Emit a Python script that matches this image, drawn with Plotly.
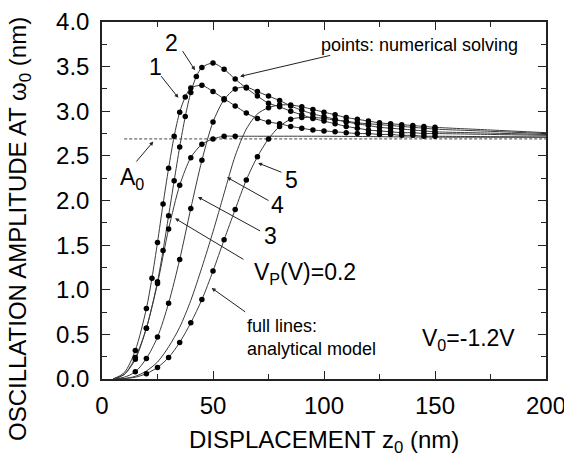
import plotly.graph_objects as go

# ---------------- data ----------------
A0 = 2.69
A0_X = [10, 200]

# V_P = 1
c1_x = [15, 20, 22.5, 25, 27.5, 30, 32.5, 35, 37.5, 40, 45, 50, 55, 60, 65, 70, 75, 80, 85, 90,
        95, 100, 105, 110, 115, 120, 125, 130, 135, 140, 145, 150]
c1_y = [0.32, 0.79, 1.13, 1.53, 1.96, 2.36, 2.72, 2.99, 3.16, 3.26, 3.29, 3.22, 3.14, 3.06, 2.98, 2.92,
        2.88, 2.86, 2.83, 2.81, 2.79, 2.78, 2.77, 2.76, 2.75, 2.75, 2.74, 2.74, 2.73, 2.73, 2.72, 2.72]
# V_P = 2
c2_x = [15, 20, 25, 27.5, 30, 32.5, 35, 37.5, 40, 42.5, 45, 50, 55, 60, 65, 70, 75, 80, 85, 90,
        95, 100, 105, 110, 115, 120, 125, 130, 135, 140, 145, 150]
c2_y = [0.24, 0.57, 1.09, 1.44, 1.83, 2.22, 2.60, 2.94, 3.21, 3.39, 3.49, 3.54, 3.47, 3.36, 3.26, 3.17,
        3.09, 3.05, 3.00, 2.96, 2.92, 2.89, 2.86, 2.83, 2.81, 2.79, 2.78, 2.77, 2.76, 2.76, 2.75, 2.75]
# V_P = 0.2
c02_x = [15, 20, 25, 30, 35, 40, 45, 50, 55, 60]
c02_y = [0.22, 0.57, 1.07, 1.68, 2.17, 2.48, 2.63, 2.69, 2.72, 2.72]
c02_tail_x = [70, 100, 150, 200]
c02_tail_y = [2.72, 2.72, 2.71, 2.71]
# V_P = 3
c3_x = [15, 20, 25, 30, 35, 40, 45, 50, 55, 60, 65, 70, 75, 80, 85, 90, 95, 100, 105, 110,
        115, 120, 125, 130, 135, 140, 145, 150]
c3_y = [0.08, 0.23, 0.47, 0.85, 1.34, 1.91, 2.45, 2.88, 3.13, 3.25, 3.27, 3.22, 3.17, 3.12, 3.06, 3.01,
        2.97, 2.94, 2.91, 2.88, 2.86, 2.84, 2.82, 2.81, 2.80, 2.79, 2.78, 2.77]
# V_P = 4 (rising part: line only)
c4_line_x = [5, 10, 15, 20, 25, 30, 35, 40, 45, 50, 55, 60, 65, 70]
c4_line_y = [0.0, 0.005, 0.03, 0.09, 0.19, 0.36, 0.58, 0.88, 1.25, 1.65, 2.08, 2.50, 2.80, 2.97]
c4_x = [75, 80, 85, 90, 95, 100, 105, 110, 115, 120, 125, 130, 135, 140, 145, 150]
c4_y = [3.04, 3.07, 3.07, 3.05, 3.02, 2.99, 2.96, 2.93, 2.91, 2.89, 2.87, 2.86, 2.85, 2.84, 2.83, 2.82]
# V_P = 5
c5_x = [20, 25, 30, 35, 40, 45, 50, 55, 60, 65, 70, 75, 80, 85, 90, 95, 100, 105, 110,
        115, 120, 125, 130, 135, 140, 145, 150]
c5_y = [0.06, 0.13, 0.24, 0.41, 0.63, 0.89, 1.21, 1.56, 1.90, 2.23, 2.49, 2.69, 2.83, 2.91, 2.93, 2.93,
        2.92, 2.90, 2.89, 2.87, 2.86, 2.85, 2.84, 2.83, 2.82, 2.81, 2.80]

# line-only starts / ends of the analytical curves
HEAD_X = [5, 10]
c1_head = [0.0, 0.07]
c2_head = [0.0, 0.05]
c02_head = [0.0, 0.05]
c3_head = [0.0, 0.02]
c5_head_x = [5, 10, 15]
c5_head = [0.0, 0.005, 0.02]
TAIL_X = [175, 200]
c1_tail = [2.715, 2.71]
c2_tail = [2.74, 2.73]
c3_tail = [2.755, 2.74]
c4_tail = [2.79, 2.76]
c5_tail = [2.775, 2.75]

X_TICKS = [0, 50, 100, 150, 200]
Y_TICKS = [0.0, 0.5, 1.0, 1.5, 2.0, 2.5, 3.0, 3.5, 4.0]

# ---------------- figure ----------------
FONT = "Liberation Sans, Arial, sans-serif"
LINE_C = "#3a3a3a"
fig = go.Figure()

lines = [
    (HEAD_X + c1_x + TAIL_X, c1_head + c1_y + c1_tail),
    (HEAD_X + c2_x + TAIL_X, c2_head + c2_y + c2_tail),
    (HEAD_X + c02_x + c02_tail_x, c02_head + c02_y + c02_tail_y),
    (HEAD_X + c3_x + TAIL_X, c3_head + c3_y + c3_tail),
    (c4_line_x + c4_x + TAIL_X, c4_line_y + c4_y + c4_tail),
    (c5_head_x + c5_x + TAIL_X, c5_head + c5_y + c5_tail),
]
for lx, ly in lines:
    fig.add_trace(go.Scatter(x=lx, y=ly, mode="lines",
                             line=dict(color=LINE_C, width=1, shape="spline", smoothing=0.8),
                             hoverinfo="skip", showlegend=False))

fig.add_trace(go.Scatter(x=A0_X, y=[A0, A0], mode="lines",
                         line=dict(color="#444", width=1, dash="3px,2px"),
                         showlegend=False))

for dx, dy in [(c1_x, c1_y), (c2_x, c2_y), (c02_x, c02_y), (c3_x, c3_y), (c4_x, c4_y), (c5_x, c5_y)]:
    fig.add_trace(go.Scatter(x=dx, y=dy, mode="markers",
                             marker=dict(size=5.5, color="black"),
                             showlegend=False))

BIG = 23
SMALL = 18
texts = [
    ("1", 23.9, 3.50, BIG, "center"),
    ("2", 31.4, 3.76, BIG, "center"),
    ("points: numerical solving", 143.2, 3.74, SMALL, "center"),
    ("A<sub>0</sub>", 13.3, 2.25, BIG, "center"),
    ("5", 85.5, 2.23, BIG, "center"),
    ("4", 79.1, 1.95, BIG, "center"),
    ("3", 76.0, 1.60, BIG, "center"),
    ("V<sub>P</sub>(V)=0.2", 67.4, 1.18, BIG, "left"),
    ("full lines:<br>analytical model", 64.4, 0.47, SMALL, "left"),
    ("V<sub>0</sub>=-1.2V", 164.9, 0.44, BIG, "center"),
]
ann = []
for t, x, y, s, xa in texts:
    ann.append(dict(text=t, x=x, y=y, xref="x", yref="y", showarrow=False,
                    xanchor=xa, yanchor="middle", align="left",
                    font=dict(family=FONT, size=s, color="black")))

arrows = [
    (26.1, 3.41, 34.4, 3.15),
    (35.9, 3.69, 41.9, 3.46),
    (103.5, 3.63, 62.2, 3.39),
    (14.9, 2.42, 23.1, 2.66),
    (81.5, 2.31, 70.3, 2.42),
    (75.7, 1.99, 56.3, 2.26),
    (71.9, 1.65, 43.2, 2.04),
    (64.4, 1.33, 32.9, 1.80),
    (65.2, 0.74, 49.4, 1.02),
]
for ax, ay, hx, hy in arrows:
    ann.append(dict(text="", x=hx, y=hy, ax=ax, ay=ay, xref="x", yref="y",
                    axref="x", ayref="y", showarrow=True, arrowhead=2,
                    arrowsize=0.8, arrowwidth=1, arrowcolor="#222",
                    standoff=0, startstandoff=0))

ann.append(dict(text="DISPLACEMENT z<sub>0</sub> (nm)", x=0.5, y=-0.174, xref="paper", yref="paper",
                showarrow=False, xanchor="center", yanchor="middle",
                font=dict(family=FONT, size=24, color="black")))
ann.append(dict(text="OSCILLATION AMPLITUDE AT ω<sub>0</sub> (nm)", x=-0.187, y=0.42,
                xref="paper", yref="paper", showarrow=False, textangle=-90,
                xanchor="center", yanchor="middle",
                font=dict(family=FONT, size=24, color="black")))

axis_common = dict(showline=True, linecolor="#222", linewidth=1.5, mirror="allticks",
                   ticks="inside", ticklen=8, tickwidth=1.2, tickcolor="#222",
                   showgrid=False, zeroline=False, automargin=False,
                   ticklabeloverflow="allow",
                   tickfont=dict(family=FONT, size=24, color="black"))

fig.update_layout(
    width=564, height=460, autosize=False,
    margin=dict(l=102, r=18, t=22, b=81),
    plot_bgcolor="white", paper_bgcolor="white",
    showlegend=False,
    xaxis=dict(range=[0, 200], tickvals=X_TICKS, ticktext=[str(v) for v in X_TICKS],
               minor=dict(dtick=25, ticks="inside", ticklen=5, tickwidth=1, tickcolor="#222"),
               ticklabelstandoff=4, **axis_common),
    yaxis=dict(range=[0, 4], tickvals=Y_TICKS, ticktext=[f"{v:.1f}" for v in Y_TICKS],
               minor=dict(dtick=0.25, ticks="inside", ticklen=5, tickwidth=1, tickcolor="#222"),
               ticklabelstandoff=6, **axis_common),
    annotations=ann,
)

fig.write_html("out.html", config={"displayModeBar": False},
               post_script="document.body.style.margin='0';document.body.style.overflow='hidden';")
